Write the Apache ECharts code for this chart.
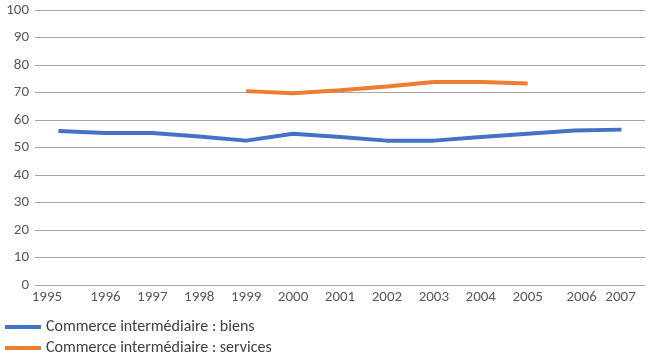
<!DOCTYPE html>
<html><head><meta charset="utf-8">
<script src="https://cdn.jsdelivr.net/npm/echarts@6/dist/echarts.min.js"></script>
<style>html,body{margin:0;padding:0;background:#fff}#c{width:651px;height:363px}</style>
</head><body><div id="c"></div>
<script>
const years = ['1995','1996','1997','1998','1999','2000','2001','2002','2003','2004','2005','2006','2007'];
const biens = [56.0, 55.3, 55.3, 54.0, 52.5, 55.0, 53.8, 52.5, 52.5, 53.8, 55.0, 56.2, 56.5];
const services = [null, null, null, null, 70.5, 69.7, 70.8, 72.2, 73.8, 73.8, 73.3, null, null];
const yTicks = [0,10,20,30,40,50,60,70,80,90,100];
const seriesNames = ['Commerce intermédiaire : biens','Commerce intermédiaire : services'];
const FONT = "Carlito, 'Liberation Sans Narrow', 'Liberation Sans', sans-serif";
const AX = 15;
const chart = echarts.init(document.getElementById('c'));
chart.setOption({
  animation:false,
  grid:{left:35,right:6,top:10,bottom:78,containLabel:false},
  legend:{orient:'vertical',left:0,top:314,itemWidth:36,itemHeight:4,itemGap:5,icon:'rect',
    textStyle:{fontFamily:FONT,fontSize:16,color:'#404040'},data:seriesNames},
  xAxis:{type:'category',data:years,boundaryGap:true,
    axisLine:{lineStyle:{color:'#a6a6a6',width:1}},axisTick:{show:false},
    axisLabel:{interval:0,margin:5,fontFamily:FONT,fontSize:AX,color:'#595959',
      formatter:function(v){ if(v==='1995')return '{l|'+v+'}'; if(v==='2007')return '{m|'+v+'}'; if(v==='2006')return '{r|'+v+'}'; return '{n|'+v+'}';},
      rich:{n:{fontFamily:FONT,fontSize:AX,color:'#595959'},
        l:{fontFamily:FONT,fontSize:AX,color:'#595959',padding:[0,23,0,0]},
        m:{fontFamily:FONT,fontSize:AX,color:'#595959',padding:[0,2,0,0]},
        r:{fontFamily:FONT,fontSize:AX,color:'#595959',padding:[0,0,0,14]}}},
    splitLine:{show:false}},
  yAxis:{type:'value',min:0,max:100,interval:10,
    axisLine:{show:false},axisTick:{show:false},
    axisLabel:{margin:6,fontFamily:FONT,fontSize:AX,color:'#595959',
      formatter:function(v){return yTicks.indexOf(v)>=0?String(v):'';}},
    splitLine:{lineStyle:{color:'#a6a6a6',width:1}}},
  series:[
    {name:seriesNames[0],type:'line',data:biens,symbol:'none',lineStyle:{width:4,color:'#4472C4'},itemStyle:{color:'#4472C4'}},
    {name:seriesNames[1],type:'line',data:services,symbol:'none',connectNulls:false,lineStyle:{width:4,color:'#ED7D31'},itemStyle:{color:'#ED7D31'}}
  ]
});
</script></body></html>
